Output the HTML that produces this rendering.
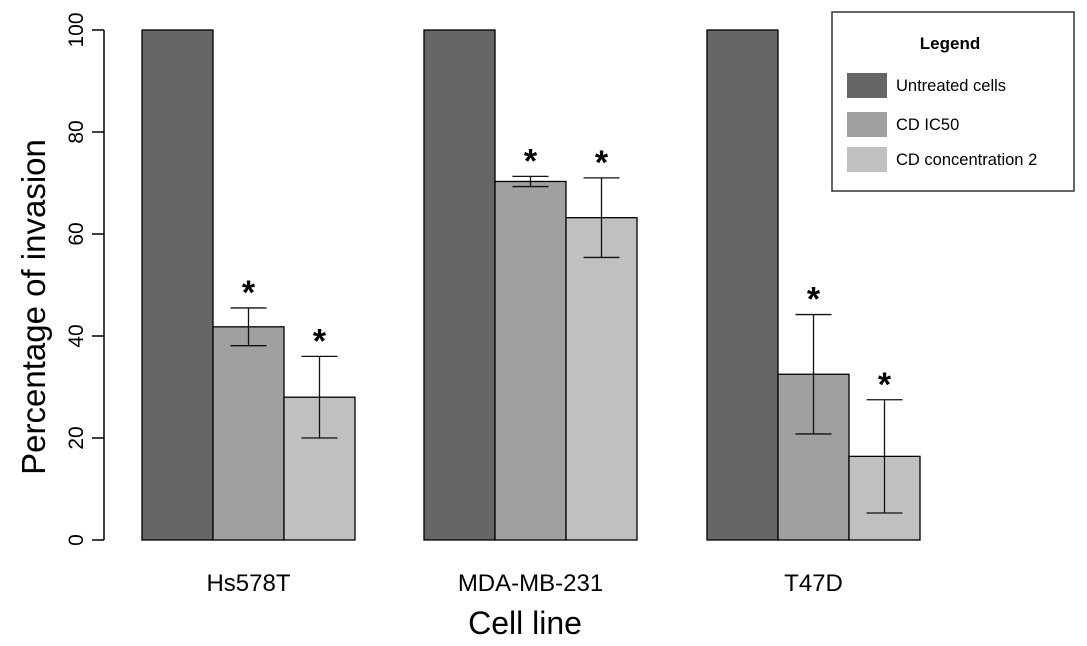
<!DOCTYPE html>
<html><head><meta charset="utf-8"><style>
body{margin:0;background:#fff}
svg{display:block;font-family:"Liberation Sans",Arial,sans-serif}
</style></head><body>
<svg id="chart" width="1087" height="646" viewBox="0 0 1087 646"></svg>
<script>
const categories=["Hs578T","MDA-MB-231","T47D"];
const seriesNames=["Untreated cells","CD IC50","CD concentration 2"];
const untreated=[100,100,100];
const ic50=[41.8,70.3,32.5];
const conc2=[28.0,63.2,16.4];
const ic50Err=[3.7,1.0,11.7];
const conc2Err=[8.0,7.8,11.1];
const ic50Sig=[true,true,true];
const conc2Sig=[true,true,true];
const yTicks=[0,20,40,60,80,100];

const NS="http://www.w3.org/2000/svg";
const svg=document.getElementById('chart');
const colors=["#666666","#a0a0a0","#c0c0c0"];
const y0=540,y100=30;
function y(v){return y0-(v-0)/(100)*(y0-y100);}
const groupStart=[142,424,707],barW=71;
function x(g,s){return groupStart[g]+s*barW;}
function el(t,a,p){const e=document.createElementNS(NS,t);for(const k in a)e.setAttribute(k,a[k]);(p||svg).appendChild(e);return e;}

const ax=el('line',{x1:104,x2:104,y1:y(0),y2:y(100),stroke:'#000','stroke-width':1.5});


yTicks.forEach(t=>{
  const l=el('line',{x1:92,x2:104,y1:y(t),y2:y(t),stroke:'#000','stroke-width':1.5});
  
  
  const tx=el('text',{x:0,y:0,'font-size':21,'text-anchor':'middle',transform:`translate(83,${y(t)}) rotate(-90)`,fill:'#000'});
  tx.textContent=t;
  
  
});
const yt=el('text',{x:0,y:0,'font-size':33,'text-anchor':'middle',transform:`translate(45,${y(50)+22}) rotate(-90)`,fill:'#000'});
yt.textContent='Percentage of invasion';


const xt=el('text',{x:525,y:634,'font-size':32,'text-anchor':'middle',fill:'#000'});
xt.textContent='Cell line';



const series=[untreated,ic50,conc2],errs=[null,ic50Err,conc2Err],sigs=[null,ic50Sig,conc2Sig];
categories.forEach((c,g)=>{
  series.forEach((vals,s)=>{
    const r=el('rect',{x:x(g,s),y:y(vals[g]),width:barW,height:y(0)-y(vals[g]),fill:colors[s],stroke:'#000','stroke-width':1.3});
    
    
    if(errs[s]){
      const cx=x(g,s)+barW/2,hi=y(vals[g]+errs[s][g]),lo=y(vals[g]-errs[s][g]);
      const eg=el('path',{d:`M${cx},${hi}V${lo}M${cx-18},${hi}H${cx+18}M${cx-18},${lo}H${cx+18}`,stroke:'#111','stroke-width':1.3,fill:'none'});
      
      
      if(sigs[s][g]){
        const st=el('text',{x:cx,y:hi-4,'font-size':34,'font-weight':'bold','text-anchor':'middle',fill:'#000'});
        st.textContent='*';
        
        
      }
    }
  });
  const cl=el('text',{x:x(g,1)+barW/2,y:591,'font-size':24,'text-anchor':'middle',fill:'#000'});
  cl.textContent=c;
  
  
});

const lg=el('g',{});


el('rect',{x:832,y:12,width:242,height:179,fill:'#fff',stroke:'#333','stroke-width':1.5},lg);
const lt=el('text',{x:950,y:49,'font-size':17,'font-weight':'bold','text-anchor':'middle',fill:'#000'},lg);
lt.textContent='Legend';


const ly=[73,112,147];
seriesNames.forEach((n,i)=>{
  const sw=el('rect',{x:847,y:ly[i],width:40,height:25,fill:colors[i]},lg);
  
  
  const t=el('text',{x:896,y:ly[i]+18,'font-size':16.5,fill:'#000'},lg);
  t.textContent=n;
  
  
});
</script>
</body></html>
